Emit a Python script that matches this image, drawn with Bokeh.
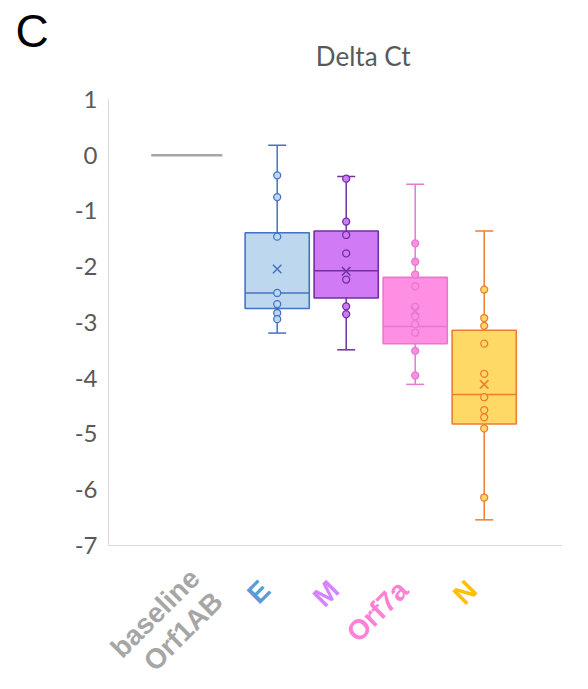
from bokeh.plotting import figure
from bokeh.models import FactorRange, Range1d, FixedTicker, Span, Title
from bokeh.core.properties import value
from bokeh.embed import file_html
from bokeh.resources import INLINE

# ---- data ----
groups = ["baseline", "target", "target", "target", "target"]
genes = ["Orf1AB", "E", "M", "Orf7a", "N"]
label_texts = ["baseline\nOrf1AB", "E", "M", "Orf7a", "N"]
whisker_low = [0.0, -3.19, -3.49, -4.11, -6.54]
quartile1 = [0.0, -2.75, -2.56, -3.38, -4.82]
medians = [0.0, -2.47, -2.07, -3.07, -4.29]
quartile3 = [0.0, -1.39, -1.36, -2.19, -3.14]
whisker_high = [0.0, 0.18, -0.38, -0.52, -1.36]
means = [0.0, -2.04, -2.08, -2.79, -4.11]
e_points = [-0.36, -0.75, -1.46, -2.47, -2.67, -2.83, -2.94]
m_points = [-0.42, -1.19, -1.43, -1.76, -2.23, -2.71, -2.85]
orf7a_points = [-1.58, -1.91, -2.14, -2.35, -2.72, -2.89, -3.03, -3.18, -3.51, -3.95]
n_points = [-2.41, -2.92, -3.06, -3.38, -3.92, -4.34, -4.57, -4.70, -4.90, -6.14]
y_ticks = [1, 0, -1, -2, -3, -4, -5, -6, -7]
y_tick_labels = ["1", "0", "-1", "-2", "-3", "-4", "-5", "-6", "-7"]
title_text = "Delta Ct"
panel_letter = "C"

# ---- styles ----
fill_colors = ["#FFFFFF", "#BDD7EE", "#D17AF5", "#FF8FE3", "#FFD966"]
line_colors = ["#A6A6A6", "#4472C4", "#7030A0", "#E878CF", "#ED7D31"]
label_colors = ["#A6A6A6", "#5B9BD5", "#D683FF", "#FF80D5", "#FFC000"]

factors = list(zip(groups, genes))
tg = slice(1, 5)

p = figure(width=588, height=689,
           x_range=FactorRange(*factors, group_padding=0.31, factor_padding=0.0,
                               range_padding=0.239),
           y_range=Range1d(-9.583, 2.0583),
           x_axis_location=None, output_backend="svg", toolbar_location=None,
           min_border_left=108, min_border_right=26, min_border_top=40,
           min_border_bottom=0)
p.outline_line_color = None
p.xgrid.visible = False
p.ygrid.visible = False
p.background_fill_color = "white"

ax = p.yaxis[0]
ax.ticker = FixedTicker(ticks=y_ticks)
ax.major_label_overrides = dict(zip(y_ticks, y_tick_labels))
ax.bounds = (-7, 1)
ax.axis_line_color = "#D9D9D9"
ax.axis_line_width = 1
ax.major_tick_line_color = None
ax.minor_tick_line_color = None
ax.major_tick_out = 0
ax.major_tick_in = 0
ax.major_label_standoff = 11
ax.major_label_text_font = "Lato"
ax.major_label_text_font_size = "24px"
ax.major_label_text_color = "#595959"

p.add_layout(Span(location=-7, dimension="width", line_color="#D9D9D9", line_width=1))

# whiskers
p.segment(x0=factors[tg], y0=quartile3[tg], x1=factors[tg], y1=whisker_high[tg],
          line_color=line_colors[tg], line_width=1.5)
p.segment(x0=factors[tg], y0=whisker_low[tg], x1=factors[tg], y1=quartile1[tg],
          line_color=line_colors[tg], line_width=1.5)
p.scatter(x=factors[tg], y=whisker_high[tg], marker="dash", size=18,
          line_color=line_colors[tg], line_width=1.5)
p.scatter(x=factors[tg], y=whisker_low[tg], marker="dash", size=18,
          line_color=line_colors[tg], line_width=1.5)

# boxes
p.vbar(x=factors[tg], top=quartile3[tg], bottom=quartile1[tg], width=0.93,
       fill_color=fill_colors[tg], line_color=line_colors[tg], line_width=1.6)
p.rect(x=factors[tg], y=medians[tg], width=0.93, height=1.5, height_units="screen",
       fill_color=line_colors[tg], line_color=None)

# baseline (all zero)
p.rect(x=factors[0:1], y=medians[0:1], width=1.03, height=2.5, height_units="screen",
       fill_color=line_colors[0], line_color=None)

# inner points
pt_sets = [e_points, m_points, orf7a_points, n_points]
px, py, pf, pl = [], [], [], []
for i, pts in enumerate(pt_sets, start=1):
    px += [factors[i]] * len(pts)
    py += pts
    pf += [fill_colors[i]] * len(pts)
    pl += [line_colors[i]] * len(pts)
p.scatter(x=px, y=py, size=7, fill_color=pf, line_color=pl, line_width=1.3)

# means
p.scatter(x=factors[tg], y=means[tg], marker="x", size=12,
          line_color=line_colors[tg], line_width=1.5)

# category labels (rotated, coloured)
p.text(x=factors[tg], y=-7.75, text=label_texts[tg], angle=0.7854,
       x_offset=-12, y_offset=-2,
       text_align="right", text_baseline="middle", text_color=label_colors[tg],
       text_font=value("Liberation Sans"), text_font_style="bold", text_font_size="28px")
p.text(x=factors[0:1], y=-7.72, text=label_texts[0:1], angle=0.7854,
       x_offset=-3, y_offset=-23,
       text_align="right", text_baseline="top", text_color=label_colors[0:1],
       text_font=value("Liberation Sans"), text_font_style="bold", text_font_size="28px",
       text_line_height=1.05)

# chart title (inside the plotting frame, above the boxes)
p.text(x=factors[2:3], y=1.78, text=[title_text], x_offset=17,
       text_align="center", text_baseline="alphabetic", text_color="#595959",
       text_font=value("Lato"), text_font_size="26px")

# panel letter
p.add_layout(Title(text=panel_letter, align="left", offset=-93,
                   vertical_align="bottom",
                   text_font="Liberation Sans", text_font_size="46px",
                   text_font_style="normal", text_color="#000000",
                   standoff=-32), "above")

open("out.html", "w").write(file_html(p, INLINE))
